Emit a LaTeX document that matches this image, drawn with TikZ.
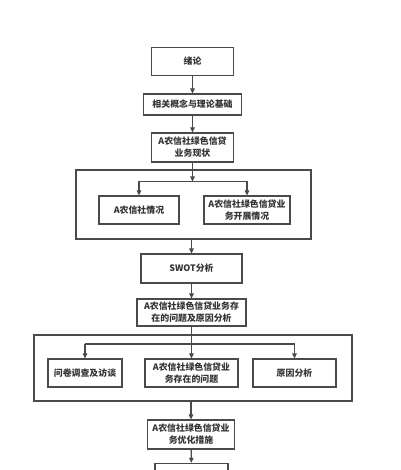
\documentclass[tikz,border=0pt]{standalone}
\usepackage{fontspec}
\newfontfamily\cjk{Noto Sans CJK SC}
\usetikzlibrary{arrows.meta}
\definecolor{linec}{HTML}{4A4A4A}
\definecolor{textc}{HTML}{333333}
\tikzset{
  box/.style={draw=linec, line width=1.2pt, rectangle, inner sep=0pt, align=center,
    text=textc, font=\cjk\bfseries\fontsize{8.9}{12}\selectfont},
  frame/.style={draw=linec, line width=1.2pt, rectangle, inner sep=0pt},
  arr/.style={draw=linec, line width=1.2pt, -{Triangle[length=5pt,width=4.5pt]}},
  ln/.style={draw=linec, line width=1.2pt}
}
\begin{document}
\begin{tikzpicture}[x=1pt,y=-1pt]
\useasboundingbox (0,0) rectangle (400,470);
\begin{scope}
\clip (0,0) rectangle (400,470);
\node[box, minimum width=82pt, minimum height=28.5pt] (n1) at (192.5,61.5) {绪论};
\node[box, minimum width=98pt, minimum height=21pt] (n2) at (192.5,104.5) {相关概念与理论基础};
\node[box, minimum width=82pt, minimum height=29pt] (n3) at (192.5,147.5) {A农信社绿色信贷\\业务现状};
\node[frame, minimum width=235pt, minimum height=69pt] (o1) at (193.5,204.5) {};
\node[box, minimum width=80pt, minimum height=28pt] (n4) at (139,210) {A农信社情况};
\node[box, minimum width=86pt, minimum height=28pt] (n5) at (247,210) {A农信社绿色信贷业\\务开展情况};
\node[box, minimum width=101pt, minimum height=29pt] (n6) at (191.5,268.5) {SWOT分析};
\node[box, minimum width=109pt, minimum height=27pt] (n7) at (191.5,312.5) {A农信社绿色信贷业务存\\在的问题及原因分析};
\node[frame, minimum width=318pt, minimum height=66pt] (o2) at (193,368) {};
\node[box, minimum width=74pt, minimum height=28pt] (n8) at (85,373) {问卷调查及访谈};
\node[box, minimum width=93pt, minimum height=28pt] (n9) at (191.5,373) {A农信社绿色信贷业\\务存在的问题};
\node[box, minimum width=83pt, minimum height=28pt] (n10) at (294.5,373) {原因分析};
\node[box, minimum width=87pt, minimum height=29pt] (n11) at (191,434.5) {A农信社绿色信贷业\\务优化措施};
\node[frame, minimum width=73pt, minimum height=28pt] (n12) at (191.5,477.5) {};
\coordinate (b1) at (192.5,181.5);
\coordinate (b2) at (191.5,344);
\draw[arr] (n1) -- (n2);
\draw[arr] (n2) -- (n3);
\draw[arr] (n3) -- (b1);
\draw[ln] (n4.north |- b1) -- (n5.north |- b1);
\draw[arr] (n4.north |- b1) -- (n4.north);
\draw[arr] (n5.north |- b1) -- (n5.north);
\draw[arr] (n6.north |- o1.south) -- (n6.north);
\draw[arr] (n6) -- (n7);
\draw[arr] (n7) -- (n9);
\draw[ln] (n8.north |- b2) -- (n10.north |- b2);
\draw[arr] (n8.north |- b2) -- (n8.north);
\draw[arr] (n10.north |- b2) -- (n10.north);
\draw[arr] (n11.north |- o2.south) -- (n11.north);
\draw[arr] (n11) -- (n12);
\end{scope}
\end{tikzpicture}
\end{document}
